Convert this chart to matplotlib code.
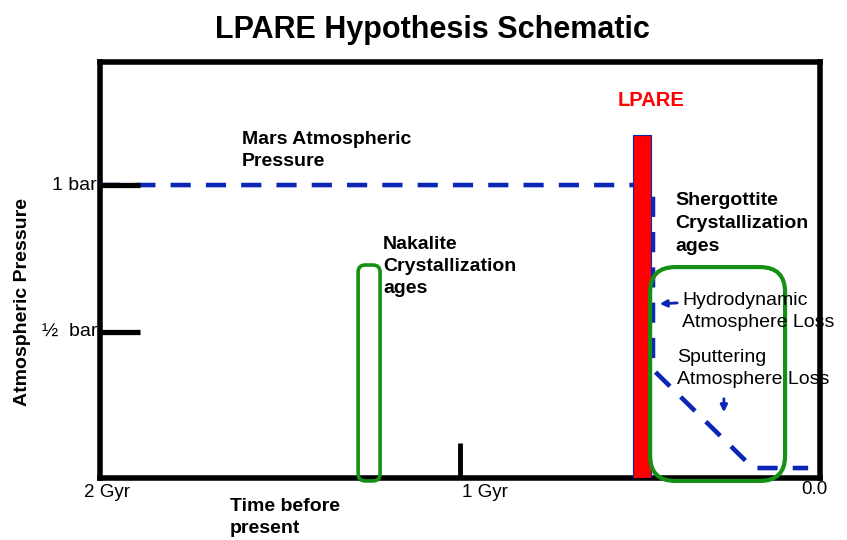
import matplotlib.pyplot as plt
from matplotlib.patches import FancyBboxPatch

plt.rcParams['font.family'] = ['Liberation Sans', 'DejaVu Sans']

# pressure history (Gyr before present, bar)
pressure_age = [2.0, 0.464, 0.464, 0.186, 0.033]
pressure_bar = [1.0, 1.0, 0.37, 0.034, 0.034]

# LPARE event bar
lpare_age = 0.494
lpare_width = 0.05
lpare_height = 1.17

# crystallization age windows: (young end, old end, top)
nakalite_box = (1.222, 1.283, 0.727)
shergottite_box = (0.097, 0.472, 0.72)

y_ticks = [1.0, 0.5]
y_tick_labels = ['1 bar', '\u00bd  bar']
x_ticks = [2.0, 1.0, 0.0]
x_tick_labels = ['2 Gyr', '1 Gyr', '0.0']

blue = '#0b26b4'
green = '#149014'

fig = plt.figure(figsize=(8.47, 5.4), dpi=100)
ax = fig.add_axes([100 / 847, 1 - 478 / 540, 720 / 847, 416 / 540])
ax.set_xlim(2.0, 0.0)
ax.set_ylim(0, 1.42)
ax.set_xticks([])
ax.set_yticks([])
for s in ax.spines.values():
    s.set_linewidth(4)

# pressure curve
ax.plot(pressure_age, pressure_bar, color=blue, lw=3.3, dashes=(4.4, 3.3), zorder=3)

# LPARE bar
ax.bar(lpare_age, lpare_height, width=lpare_width, color='red',
       edgecolor=blue, linewidth=0.8, zorder=4)

# rounded boxes
asp = 360 / 293
for (x0, x1, top), lw, r in [(nakalite_box, 2.6, 0.02), (shergottite_box, 3.0, 0.07)]:
    box = FancyBboxPatch((x0, -0.01), x1 - x0, top + 0.01,
                         boxstyle='round,pad=0,rounding_size=%s' % r,
                         mutation_aspect=asp, fill=False, edgecolor=green,
                         linewidth=lw, zorder=5, clip_on=False)
    ax.add_patch(box)

# tick marks drawn inside the frame
for yv in y_ticks:
    ax.plot([2.0, 1.889], [yv, yv], color='black', lw=3.8, solid_capstyle='butt', zorder=4)
ax.plot([1.0, 1.0], [0, 0.12], color='black', lw=3.5, solid_capstyle='butt', zorder=4)

for yv, lab in zip(y_ticks, y_tick_labels):
    ax.text(2.008, yv, lab, ha='right', va='center', fontsize=14)

ax.text(x_ticks[0] - 0.02, -0.05, x_tick_labels[0], ha='center', va='center',
        fontsize=13.5, clip_on=False)
ax.text(x_ticks[1] - 0.005, -0.05, x_tick_labels[1], ha='left', va='center',
        fontsize=13.5, clip_on=False)
ax.text(x_ticks[2] - 0.02, -0.04, x_tick_labels[2], ha='right', va='center',
        fontsize=13.5, clip_on=False)

ax.text(1.639, -0.068, 'Time before\npresent', ha='left', va='top', fontsize=14,
        fontweight='bold', linespacing=1.4, clip_on=False)
fig.text(23 / 847, 1 - 302 / 540, 'Atmospheric Pressure', rotation=90, ha='center',
         va='center', fontsize=14, fontweight='bold')

fig.text(432 / 847, 1 - 30 / 540, 'LPARE Hypothesis Schematic', ha='center',
         va='center', fontsize=22, fontweight='bold')

ax.text(0.469, 1.29, 'LPARE', color='red', ha='center', va='center',
        fontsize=14.5, fontweight='bold')
ax.text(1.606, 1.185, 'Mars Atmospheric\nPressure', ha='left', va='top',
        fontsize=14, fontweight='bold', linespacing=1.4)
ax.text(1.214, 0.825, 'Nakalite\nCrystallization\nages', ha='left', va='top',
        fontsize=14, fontweight='bold', linespacing=1.38)
ax.text(0.403, 0.975, 'Shergottite\nCrystallization\nages', ha='left', va='top',
        fontsize=14, fontweight='bold', linespacing=1.45)
ax.text(0.383, 0.635, 'Hydrodynamic\nAtmosphere Loss', ha='left', va='top',
        fontsize=14, linespacing=1.35, clip_on=False, zorder=6)
ax.text(0.397, 0.44, 'Sputtering\nAtmosphere Loss', ha='left', va='top',
        fontsize=14, linespacing=1.35, zorder=6)

ax.annotate('', xy=(0.453, 0.594), xytext=(0.389, 0.598),
            arrowprops=dict(arrowstyle='-|>', color=blue, lw=2, mutation_scale=10))
ax.annotate('', xy=(0.267, 0.215), xytext=(0.267, 0.28),
            arrowprops=dict(arrowstyle='-|>', color=blue, lw=2, mutation_scale=10))

fig.savefig('out.png', dpi=100)
